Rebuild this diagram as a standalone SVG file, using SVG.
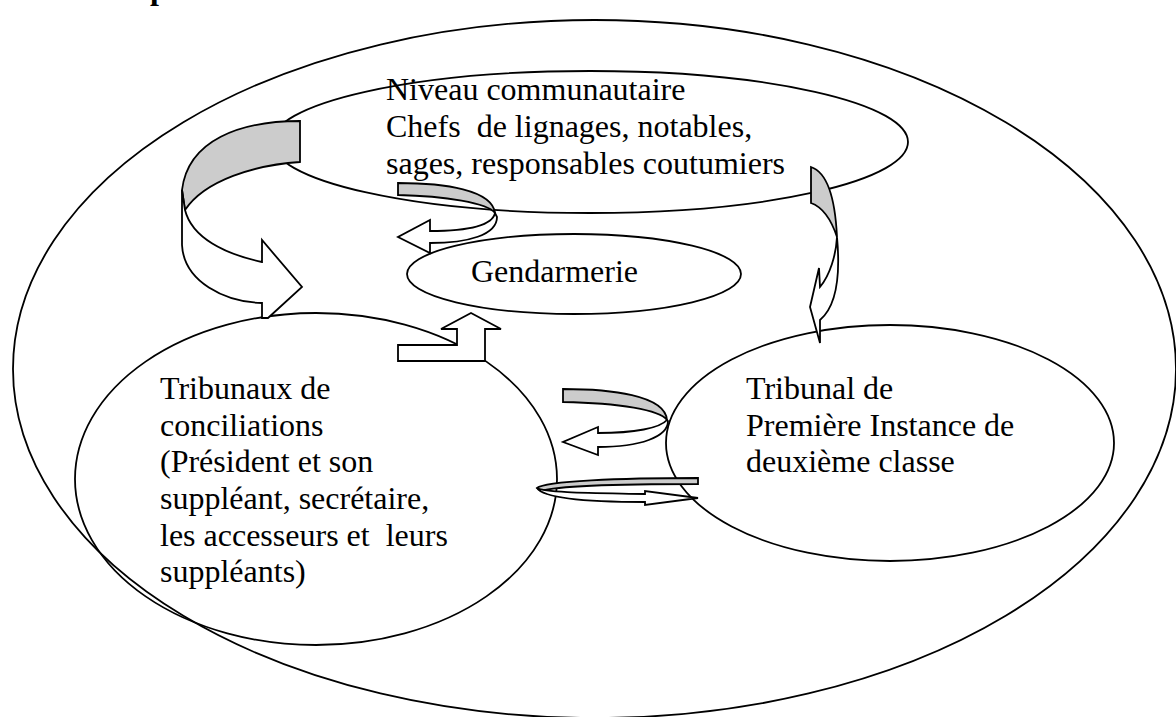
<svg xmlns="http://www.w3.org/2000/svg" width="1176" height="717" viewBox="0 0 1176 717">
<style>
.frame{fill:none;stroke:#000;stroke-width:1.8}
.band{fill:#cccccc;stroke:#000;stroke-width:1.8;stroke-linejoin:miter}
.body{fill:#fff;stroke:#000;stroke-width:1.8;stroke-linejoin:miter}
.t{font-family:"Liberation Serif","Times New Roman",serif;font-size:32px;fill:#000}
.tb{font-family:"Liberation Serif","Times New Roman",serif;font-size:32px;font-weight:bold;fill:#000}
</style>
<rect width="1176" height="717" fill="#fff"/>
<text class="tb" x="150" y="-1">p</text>
<g id="outer"><ellipse class="frame" cx="594.5" cy="369" rx="581.5" ry="349"/></g>
<g id="niveau-communautaire">
<ellipse class="frame" cx="590" cy="142" rx="318" ry="71"/>
<text class="t" xml:space="preserve" x="386" y="100">Niveau communautaire</text>
<text class="t" xml:space="preserve" x="386" y="137">Chefs  de lignages, notables,</text>
<text class="t" xml:space="preserve" x="386" y="174">sages, responsables coutumiers</text>
</g>
<g id="gendarmerie">
<ellipse class="frame" cx="574" cy="274" rx="167" ry="40"/>
<text class="t" x="471" y="282">Gendarmerie</text>
</g>
<g id="tribunaux-conciliation">
<ellipse class="frame" cx="316" cy="479" rx="241" ry="166"/>
<text class="t" xml:space="preserve" x="160" y="399">Tribunaux de</text>
<text class="t" xml:space="preserve" x="160" y="436">conciliations</text>
<text class="t" xml:space="preserve" x="160" y="472">(Président et son</text>
<text class="t" xml:space="preserve" x="160" y="509">suppléant, secrétaire,</text>
<text class="t" xml:space="preserve" x="160" y="546">les accesseurs et  leurs</text>
<text class="t" xml:space="preserve" x="160" y="582">suppléants)</text>
</g>
<g id="tribunal-premiere-instance">
<ellipse class="frame" cx="890" cy="443" rx="224" ry="118"/>
<text class="t" xml:space="preserve" x="746" y="399">Tribunal de</text>
<text class="t" xml:space="preserve" x="746" y="436">Première Instance de</text>
<text class="t" xml:space="preserve" x="746" y="472">deuxième classe</text>
</g>
<g id="connectors">
<!-- big curved arrow: communautaire -> conciliation -->
<path class="band" d="M300,121 C240,121 188,140 182,190 L185,210 C205,180 255,165 300,162 Z"/>
<path class="body" d="M182,190 L182,245 C184,282 225,302 262,303 L262,318 L268,318 L302,287 L262,240 L262,262 C225,254 192,238 185,210 Z"/>
<!-- small curved arrow: communautaire -> gendarmerie -->
<path class="band" d="M398,183 C445,183 492,190 495,213 C488,203 445,196 398,195 Z"/>
<path class="body" d="M495,213 C492,227 465,231 430,231 L430,220 L398,237 L430,253 L430,243 C468,243 497,235 497,217 Z"/>
<!-- thin curved arrow: communautaire -> premiere instance -->
<path class="band" d="M811,167 C826,172 835,195 837,237 C832,222 825,208 811,203 Z"/>
<path class="body" d="M837,237 C840,270 838,305 820,320 L820,343 L810,307 L819,268 L820,287 C830,275 836,255 837,237 Z"/>
<!-- bent-up arrow: conciliation -> gendarmerie -->
<path class="body" d="M398,345 L457,345 L457,329 L441,329 L471,313 L501,329 L485,329 L485,361 L398,361 Z"/>
<!-- curved arrow: premiere instance -> conciliation -->
<path class="band" d="M563,389 C610,389 665,395 667,420 C660,410 620,403 563,402 Z"/>
<path class="body" d="M667,420 C660,428 635,433 598,433 L598,427 L563,442 L598,455 L598,447 C640,447 668,437 668,421 Z"/>
<!-- thin loop arrow: conciliation -> premiere instance -->
<path class="band" d="M698,478 L698,484 C640,484 560,485 541,491 L537,488 C545,481 620,478 698,478 Z"/>
<path class="body" d="M537,488 C545,493 600,493 645,494 L645,491 L698,498 L645,505 L645,502 C600,502 545,500 537,488 Z"/>
</g>
</svg>
